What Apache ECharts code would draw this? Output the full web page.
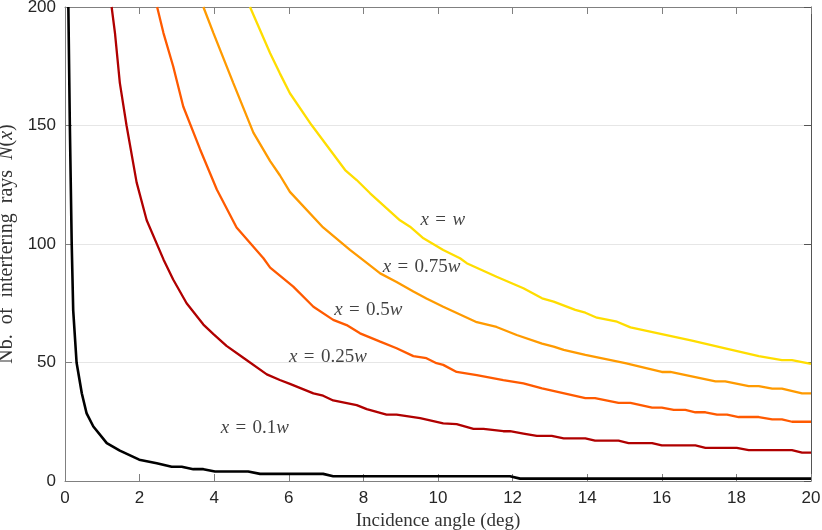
<!DOCTYPE html>
<html>
<head>
<meta charset="utf-8">
<script src="https://cdn.jsdelivr.net/npm/echarts@6/dist/echarts.min.js"></script>
<style>
html,body{margin:0;padding:0;background:#fff;}
#main{width:822px;height:530px;}
</style>
</head>
<body>
<div id="main"></div>
<script>
// x = w
var angW  = [4.96,5.50,5.76,6.03,6.61,7.51,7.82,8.18,8.98,9.25,9.61,10.14,10.59,10.77,11.57,12.29,12.79,13.10,13.68,13.95,14.26,14.80,15.16,16.00,16.81,17.70,18.60,19.22,19.49,20.00];
var nW    = [200,180.5,172,163.6,150.2,131.2,127,121.4,110,107.3,102.4,97.5,94,91.9,86.2,81.3,77.1,75.7,72.2,71,68.9,67.2,64.8,62,59.2,56,52.7,51,51,49.4];
// x = 0.75w
var ang075 = [3.71,3.98,4.51,5.05,5.50,5.76,6.03,6.92,7.64,8.09,8.45,8.89,9.34,9.69,10.14,11.04,11.57,12.11,12.79,13.10,13.37,13.95,15.02,16.00,16.23,17.44,17.70,18.33,18.60,18.96,19.22,19.76,20.00];
var n075   = [200,189,168,147,135,129,122,107,97.5,92,87.6,84,80,77,73.5,67,65,61.6,58,56.7,55.3,53.2,49.7,46,46,42,42,40,40,39,39,37,37];
// x = 0.5w
var ang05 = [2.47,2.64,2.90,3.17,3.62,4.07,4.60,5.32,5.50,6.12,6.66,7.19,7.55,7.91,8.45,8.89,9.34,9.69,9.96,10.14,10.50,11.04,11.75,12.29,12.79,13.95,14.21,14.84,15.16,15.74,16.00,16.32,16.63,16.90,17.17,17.48,17.75,18.06,18.60,18.96,19.22,19.49,20.00];
var n05   = [200,189,175,158,140,123,107,94,90,82,73.5,68,65.8,62.3,58.8,56,52.7,51.8,49.7,49,46,44.7,42.6,41.2,39.1,35,35,33,33,31,31,30,30,29,29,28,28,27,27,26,26,25,25];
// x = 0.25w
var ang025 = [1.25,1.34,1.47,1.65,1.92,2.19,2.64,2.90,3.26,3.71,3.98,4.33,4.78,5.41,5.76,6.03,6.66,6.92,7.19,7.82,8.09,8.62,8.89,9.52,10.14,10.50,10.95,11.22,11.75,11.93,12.29,12.65,13.05,13.37,13.95,14.21,14.84,15.11,15.74,16.00,16.90,17.17,18.01,18.33,19.49,19.76,20.00];
var n025   = [200,189,168,150,126,110,93.5,85,75,66,62,57,52,45,42.6,41,37,36,34,32,30.3,28,28,26.5,24.3,24,22,22,21,21,20,19,19,18,18,17,17,16,16,15,15,14,14,13,13,12,12];
// x = 0.1w
var ang01 = [0.09,0.13,0.18,0.22,0.31,0.45,0.58,0.76,1.12,1.47,1.99,2.46,2.86,3.13,3.44,3.71,4.02,4.91,5.23,6.92,7.19,11.93,12.20,20.00];
var n01   = [200,150,100,72,50,37,28.5,23,16,12.8,9,7.5,6,6,5,5,4,4,3,3,2,2,1,1];

var xTicks = [0,2,4,6,8,10,12,14,16,18,20];
var yTicks = [0,50,100,150,200];

//组合成[x,y]
function zip(a, b){
	var out = [];
	for (var i = 0; i < a.length; i++) {
		out.push([a[i], b[i]]);
	}
	return out;
}

var serifFont = "'Liberation Serif', 'DejaVu Serif', serif";
var sansFont = "'Liberation Sans', Arial, sans-serif";
var sp = '\u2004';
var richMath = {
	i : {fontStyle:'italic', fontFamily:serifFont, fontSize:19, color:'#111'},
	r : {fontFamily:serifFont, fontSize:19, color:'#111'}
};
var richTitle = {
	i : {fontStyle:'italic', fontFamily:serifFont, fontSize:20, color:'#333'}
};

function lineSeries(name, data, color, width){
	return {
		name		:name,
		type		:'line',
		data		:data,
		showSymbol	:false,
		clip		:true,
		lineStyle	:{color:color, width:width},
		itemStyle	:{color:color},
		z			:3
	};
}

var axisGray = '#808080';
var tickLabel = {show:true, color:'#262626', fontSize:17, fontFamily:sansFont, margin:9};

var option = {
	animation	:false,
	backgroundColor:'#fff',
	grid		:{left:65, right:11, top:7, bottom:49, containLabel:false, outerBoundsMode:'none'},
	xAxis : [{
		type		:'value',
		position	:'bottom',
		min			:xTicks[0],
		max			:xTicks[xTicks.length-1],
		interval	:2,
		name		:'Incidence angle (deg)',
		nameLocation:'middle',
		nameGap		:29,
		nameTextStyle:{fontFamily:serifFont, fontSize:19, color:'#333'},
		axisLine	:{show:true, lineStyle:{color:axisGray, width:1}},
		axisTick	:{show:true, inside:true, length:7, lineStyle:{color:axisGray}},
		axisLabel	:tickLabel,
		splitLine	:{show:false}
	},{
		type		:'value',
		position	:'top',
		min			:xTicks[0],
		max			:xTicks[xTicks.length-1],
		interval	:2,
		axisLine	:{show:true, onZero:false, lineStyle:{color:axisGray, width:1}},
		axisTick	:{show:true, inside:true, length:7, lineStyle:{color:axisGray}},
		axisLabel	:{show:false},
		splitLine	:{show:false}
	}],
	yAxis : [{
		type		:'value',
		position	:'left',
		min			:yTicks[0],
		max			:yTicks[yTicks.length-1],
		interval	:50,
		name		:'Nb.  of  interfering  rays  {i|N}({i|x})',
		nameLocation:'middle',
		nameGap		:48,
		nameTextStyle:{fontFamily:serifFont, fontSize:20, color:'#333', rich:richTitle},
		axisLine	:{show:true, onZero:false, lineStyle:{color:axisGray, width:1}},
		axisTick	:{show:true, inside:true, length:7, lineStyle:{color:axisGray}},
		axisLabel	:tickLabel,
		splitLine	:{show:true, lineStyle:{color:'#e6e6e6', width:1}}
	},{
		type		:'value',
		position	:'right',
		min			:yTicks[0],
		max			:yTicks[yTicks.length-1],
		interval	:50,
		axisLine	:{show:true, onZero:false, lineStyle:{color:'#555', width:1}},
		axisTick	:{show:true, inside:true, length:7, lineStyle:{color:'#555'}},
		axisLabel	:{show:false},
		splitLine	:{show:false}
	}],
	series : [
		 lineSeries('x = 0.1w',  zip(ang01,  n01),  '#000000', 2.6)
		,lineSeries('x = 0.25w', zip(ang025, n025), '#b00000', 2.3)
		,lineSeries('x = 0.5w',  zip(ang05,  n05),  '#ff5a00', 2.3)
		,lineSeries('x = 0.75w', zip(ang075, n075), '#ff9a00', 2.3)
		,lineSeries('x = w',     zip(angW,   nW),   '#ffdd00', 2.3)
		,{
			//上边和右边的框线挂在这个空序列上
			type		:'line',
			xAxisIndex	:1,
			yAxisIndex	:1,
			data		:[],
			silent		:true
		}
		,{
			//曲线标注
			type		:'scatter',
			symbolSize	:0,
			silent		:true,
			z			:5,
			label		:{show:true, position:'inside', rich:richMath, fontFamily:serifFont, fontSize:19, color:'#111'},
			data : [
				 {value:[5.09, 22.4],  label:{formatter:'{i|x}{r|' + sp + '=' + sp + '0.1}{i|w}'}}
				,{value:[7.05, 52.2],  label:{formatter:'{i|x}{r|' + sp + '=' + sp + '0.25}{i|w}'}}
				,{value:[8.13, 72.2],  label:{formatter:'{i|x}{r|' + sp + '=' + sp + '0.5}{i|w}'}}
				,{value:[9.56, 90.4],  label:{formatter:'{i|x}{r|' + sp + '=' + sp + '0.75}{i|w}'}}
				,{value:[10.13, 110],  label:{formatter:'{i|x}{r|' + sp + '=' + sp + '}{i|w}'}}
			]
		}
	]
};

var myChart = echarts.init(document.getElementById('main'));
myChart.setOption(option);
</script>
</body>
</html>
